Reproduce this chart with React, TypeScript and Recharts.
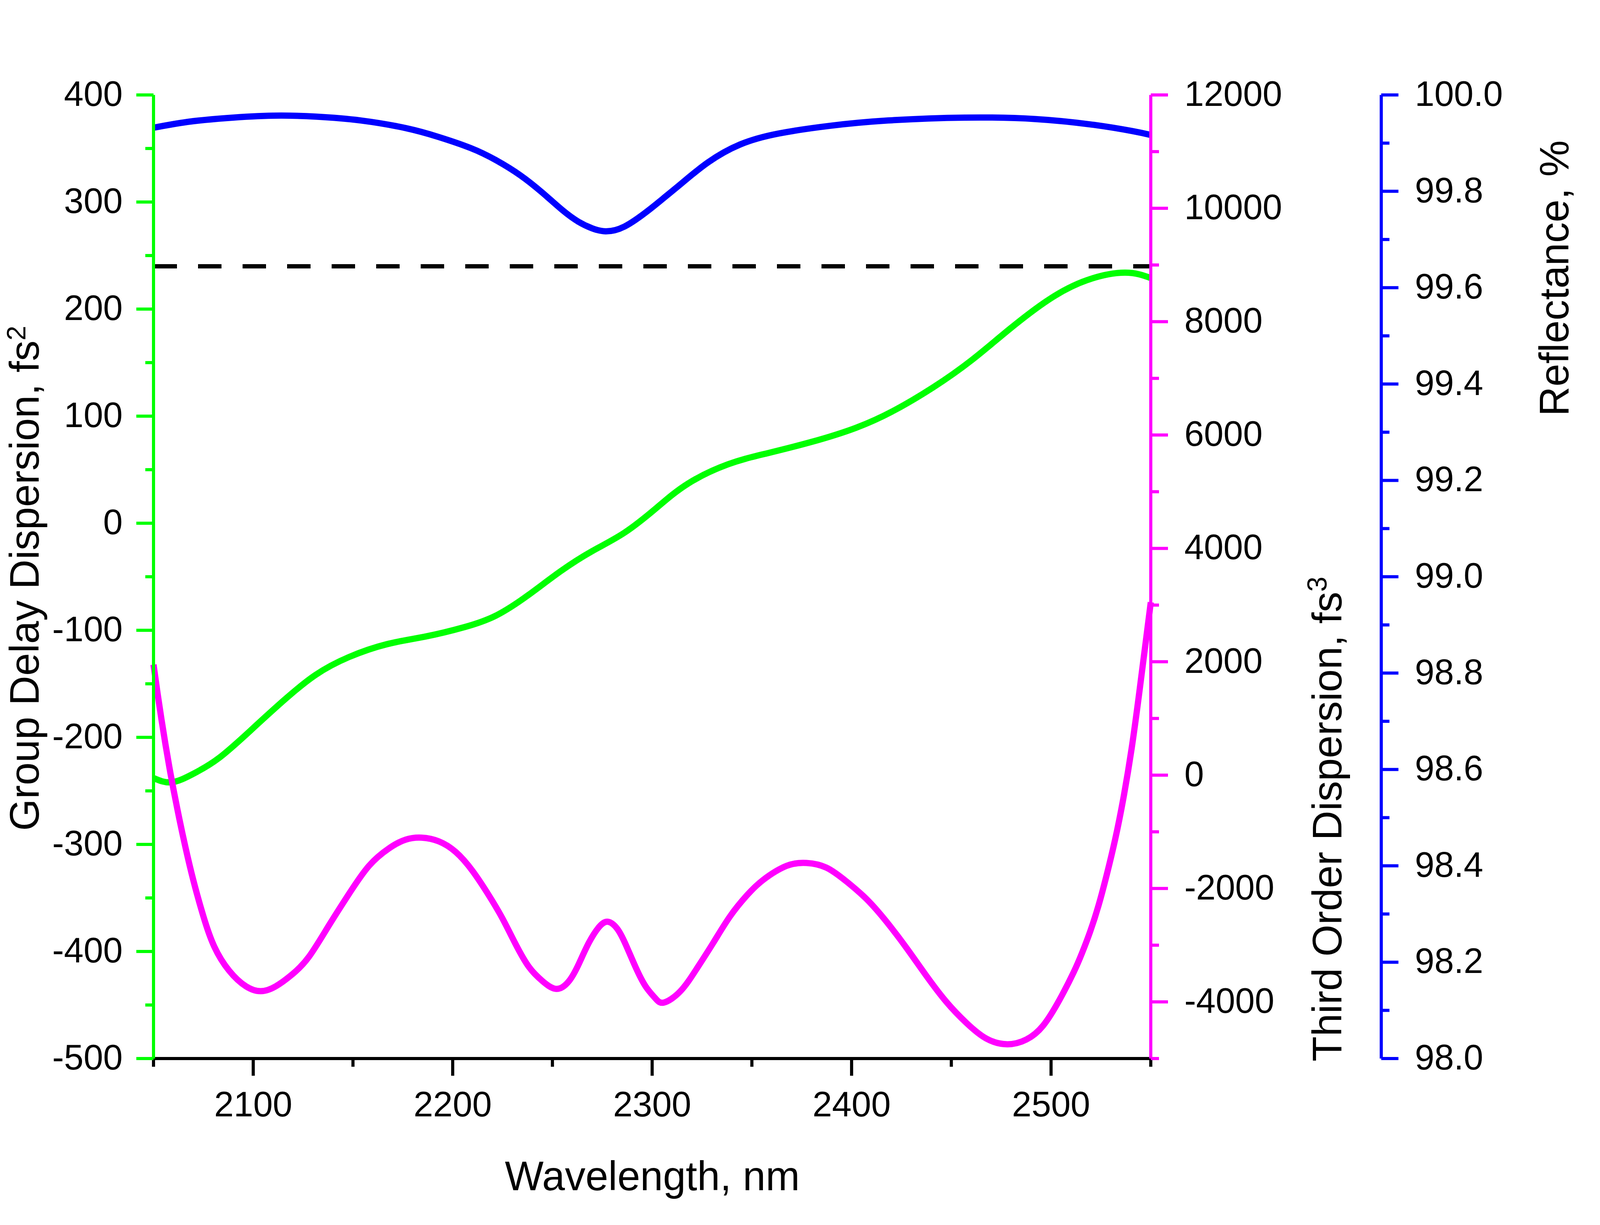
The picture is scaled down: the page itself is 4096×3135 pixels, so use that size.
import React from 'react';
import { ComposedChart, Line, XAxis, YAxis, ReferenceLine } from 'recharts';

// values
const gddWavelength = [2050, 2059, 2070, 2083, 2099, 2115, 2131, 2148, 2167, 2186, 2206, 2222, 2238, 2254, 2270, 2286, 2302, 2318, 2338, 2357, 2380, 2402, 2421, 2441, 2460, 2479, 2499, 2518, 2537, 2550];
const gddValues = [-238, -242, -234, -219, -193, -166, -142, -125, -113, -106, -97, -86, -67, -45, -26, -9, 14, 37, 55, 65, 76, 89, 105, 127, 152, 181, 209, 227, 234, 229];

const todWavelength = [2050, 2052, 2054, 2056, 2058, 2060, 2063, 2066, 2070, 2075, 2080.4, 2087.9, 2096.3, 2103.8, 2111.3, 2119.7, 2128, 2138, 2148, 2158, 2168, 2176.4, 2184.5, 2193, 2201.5, 2210, 2218.2, 2224.9, 2231.6, 2238.3, 2245, 2251.9, 2258.3, 2263.3, 2268.3, 2273.4, 2277.8, 2282.5, 2286.7, 2291.7, 2296.7, 2301.7, 2305.9, 2314, 2322.3, 2330.7, 2339, 2347.4, 2355.7, 2367.4, 2377.4, 2387.4, 2397.5, 2407.5, 2417.5, 2427.5, 2437.5, 2447.6, 2457.6, 2467.6, 2478.1, 2487.6, 2496, 2504.3, 2511.3, 2515.5, 2519.6, 2523.8, 2527.9, 2532.1, 2536.2, 2540.4, 2544.5, 2550];
const todValues = [1950, 1450, 980, 540, 130, -250, -780, -1270, -1860, -2490, -3020, -3449, -3725, -3811, -3725, -3510, -3201, -2648, -2095, -1601, -1293, -1138, -1103, -1168, -1355, -1693, -2125, -2525, -2985, -3387, -3633, -3771, -3633, -3325, -2955, -2678, -2586, -2710, -2985, -3387, -3725, -3941, -4012, -3818, -3418, -2955, -2494, -2125, -1848, -1601, -1549, -1632, -1878, -2187, -2586, -3047, -3541, -4004, -4373, -4649, -4748, -4665, -4420, -3960, -3480, -3140, -2760, -2300, -1760, -1140, -420, 470, 1530, 3050];

const reflWavelength = [2050, 2067, 2086.5, 2110, 2131.6, 2154, 2176.7, 2192.8, 2208.9, 2222, 2234, 2245, 2255, 2263, 2270, 2276.6, 2286.2, 2298, 2305.5, 2315.2, 2328, 2344, 2363.5, 2389.3, 2418.3, 2456.9, 2492.3, 2521.3, 2540.7, 2550];
const reflValues = [99.932, 99.944, 99.952, 99.957, 99.955, 99.947, 99.931, 99.913, 99.89, 99.864, 99.833, 99.797, 99.761, 99.737, 99.723, 99.717, 99.727, 99.76, 99.785, 99.818, 99.86, 99.897, 99.92, 99.936, 99.947, 99.953, 99.95, 99.938, 99.925, 99.917];

const gddLimit = 240;

const xTicks = [2050, 2100, 2150, 2200, 2250, 2300, 2350, 2400, 2450, 2500, 2550];
const gddTicks = [-500, -450, -400, -350, -300, -250, -200, -150, -100, -50, 0, 50, 100, 150, 200, 250, 300, 350, 400];
const todTicks = [-5000, -4000, -3000, -2000, -1000, 0, 1000, 2000, 3000, 4000, 5000, 6000, 7000, 8000, 9000, 10000, 11000, 12000];
const reflTicks = [98.0, 98.1, 98.2, 98.3, 98.4, 98.5, 98.6, 98.7, 98.8, 98.9, 99.0, 99.1, 99.2, 99.3, 99.4, 99.5, 99.6, 99.7, 99.8, 99.9, 100.0];

type Row = { wl: number; gdd?: number; tod?: number; refl?: number };
const rows: Row[] = [];
gddWavelength.forEach((wl, i) => rows.push({ wl, gdd: gddValues[i] }));
todWavelength.forEach((wl, i) => rows.push({ wl, tod: todValues[i] }));
reflWavelength.forEach((wl, i) => rows.push({ wl, refl: reflValues[i] }));
rows.sort((a, b) => a.wl - b.wl);

const GREEN = '#00ff00';
const MAGENTA = '#ff00ff';
const BLUE = '#0000ff';
const FONT = '"Liberation Sans", Arial, sans-serif';
const TICK_FONT = 90;
const TITLE_FONT = 105;
const MAJOR = 44;
const MINOR = 21;

function yTick(side: 'left' | 'right', color: string, isMajor: (v: number) => boolean, fmt: (v: number) => string) {
  return (props: any) => {
    const { x, y, payload } = props;
    const v = payload.value;
    const major = isMajor(v);
    const dir = side === 'left' ? -1 : 1;
    const len = major ? MAJOR : MINOR;
    return (
      <g>
        <line x1={x} x2={x + dir * len} y1={y} y2={y} stroke={color} strokeWidth={8} />
        {major && (
          <text
            x={side === 'left' ? x - 79 : x + 86}
            y={y + 28}
            textAnchor={side === 'left' ? 'end' : 'start'}
            fontFamily={FONT}
            fontSize={TICK_FONT}
            fill="#000"
          >
            {fmt(v)}
          </text>
        )}
      </g>
    );
  };
}

const xTick = (props: any) => {
  const { x, y, payload } = props;
  const v = payload.value;
  const major = v % 100 === 0;
  return (
    <g>
      <line x1={x} x2={x} y1={y} y2={y + (major ? MAJOR : MINOR)} stroke="#000" strokeWidth={8} />
      {major && (
        <text x={x} y={y + 148} textAnchor="middle" fontFamily={FONT} fontSize={TICK_FONT} fill="#000">
          {v}
        </text>
      )}
    </g>
  );
};

const titleProps = { fontFamily: FONT, fontSize: TITLE_FONT, fill: '#000', textAnchor: 'middle' as const };

const gddTitle = () => (
  <text x={99} y={1480} transform="rotate(-90 99 1480)" {...titleProps}>
    Group Delay Dispersion, fs<tspan dy={-34} fontSize={68}>2</tspan>
  </text>
);
const todTitle = () => (
  <text x={3434} y={2096} transform="rotate(-90 3434 2096)" {...titleProps}>
    Third Order Dispersion, fs<tspan dy={-38} fontSize={70}>3</tspan>
  </text>
);
const reflTitle = () => (
  <text x={4015} y={712} transform="rotate(-90 4015 712)" {...titleProps}>
    Reflectance, %
  </text>
);
const xTitle = () => (
  <text x={1670} y={3046} {...titleProps}>
    Wavelength, nm
  </text>
);

export default function App() {
  return (
    <div style={{ position: 'absolute', left: 0, top: 0, width: 4096, height: 3135, background: '#fff' }}>
      <ComposedChart width={4096} height={3135} data={rows} margin={{ top: 243, right: 0, bottom: 0, left: 0 }}>
        <XAxis
          dataKey="wl"
          type="number"
          domain={[2050, 2550]}
          ticks={xTicks}
          interval={0}
          tickSize={0}
          tickMargin={0}
          tickLine={false}
          axisLine={{ stroke: '#000', strokeWidth: 8 }}
          tick={xTick}
          height={426}
          label={{ content: xTitle }}
        />
        <YAxis
          yAxisId="gdd"
          orientation="left"
          type="number"
          domain={[-500, 400]}
          ticks={gddTicks}
          interval={0}
          tickSize={0}
          tickMargin={0}
          tickLine={false}
          axisLine={{ stroke: GREEN, strokeWidth: 8 }}
          tick={yTick('left', GREEN, (v) => v % 100 === 0, (v) => String(v))}
          width={393}
          label={{ content: gddTitle }}
        />
        <YAxis
          yAxisId="b_refl"
          orientation="right"
          type="number"
          domain={[98, 100]}
          ticks={reflTicks}
          interval={0}
          tickSize={0}
          tickMargin={0}
          tickLine={false}
          axisLine={{ stroke: BLUE, strokeWidth: 8 }}
          tick={yTick('right', BLUE, (v) => Math.round(v * 10) % 2 === 0, (v) => v.toFixed(1))}
          width={560}
          label={{ content: reflTitle }}
        />
        <YAxis
          yAxisId="a_tod"
          orientation="right"
          type="number"
          domain={[-5000, 12000]}
          ticks={todTicks}
          interval={0}
          tickSize={0}
          tickMargin={0}
          tickLine={false}
          axisLine={{ stroke: MAGENTA, strokeWidth: 8 }}
          tick={yTick('right', MAGENTA, (v) => v % 2000 === 0, (v) => String(v))}
          width={590}
          label={{ content: todTitle }}
        />
        <ReferenceLine yAxisId="gdd" y={gddLimit} stroke="#000" strokeWidth={11} strokeDasharray="60 54" />
        <Line
          yAxisId="gdd"
          dataKey="gdd"
          type="natural"
          stroke={GREEN}
          strokeWidth={16}
          dot={false}
          activeDot={false}
          connectNulls
          isAnimationActive={false}
        />
        <Line
          yAxisId="a_tod"
          dataKey="tod"
          type="natural"
          stroke={MAGENTA}
          strokeWidth={16}
          dot={false}
          activeDot={false}
          connectNulls
          isAnimationActive={false}
        />
        <Line
          yAxisId="b_refl"
          dataKey="refl"
          type="natural"
          stroke={BLUE}
          strokeWidth={16}
          dot={false}
          activeDot={false}
          connectNulls
          isAnimationActive={false}
        />
      </ComposedChart>
    </div>
  );
}
